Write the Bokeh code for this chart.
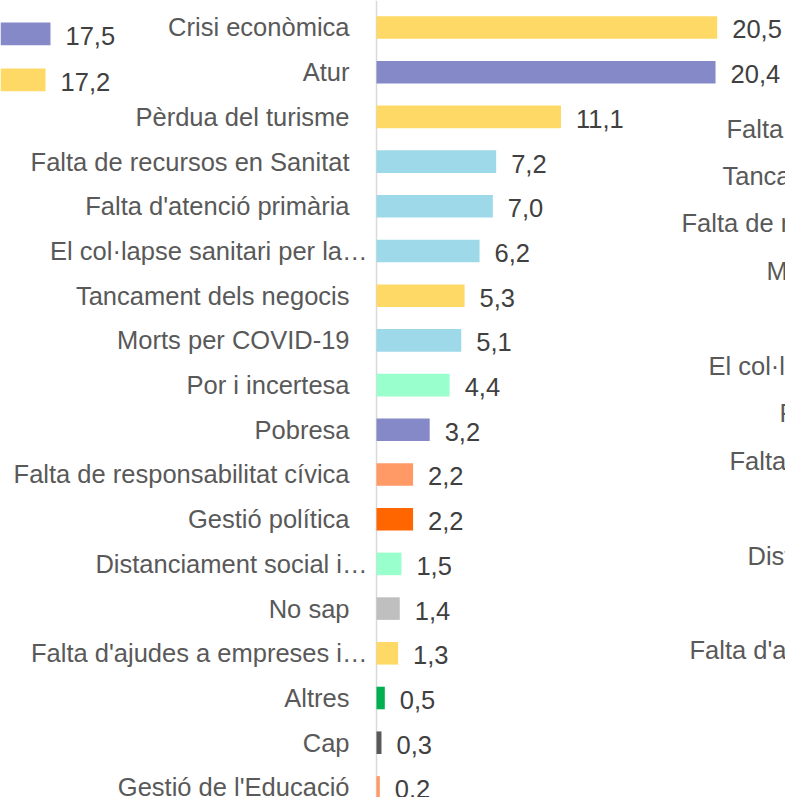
from bokeh.plotting import figure
from bokeh.models import Range1d, ColumnDataSource, Span, Label
from bokeh.core.properties import value
from bokeh.embed import file_html
from bokeh.resources import INLINE

# ---------------- data ----------------
categories = [
    "Crisi econòmica", "Atur", "Pèrdua del turisme", "Falta de recursos en Sanitat",
    "Falta d'atenció primària", "El col·lapse sanitari per la…", "Tancament dels negocis",
    "Morts per COVID-19", "Por i incertesa", "Pobresa", "Falta de responsabilitat cívica",
    "Gestió política", "Distanciament social i…", "No sap", "Falta d'ajudes a empreses i…",
    "Altres", "Cap", "Gestió de l'Educació",
]
values = [20.5, 20.4, 11.1, 7.2, 7.0, 6.2, 5.3, 5.1, 4.4, 3.2, 2.2, 2.2, 1.5, 1.4, 1.3, 0.5, 0.3, 0.2]
bar_colors = [
    "#FFD966", "#8689C7", "#FFD966", "#9DD9E8", "#9DD9E8", "#9DD9E8", "#FFD966",
    "#9DD9E8", "#99FFCC", "#8689C7", "#FF9966", "#FF6600", "#99FFCC", "#BFBFBF",
    "#FFD966", "#00B050", "#595959", "#FF9966",
]

# fragments of the neighbouring charts (cut by the picture's edges)
left_values = [17.5, 17.2]
left_colors = ["#8689C7", "#FFD966"]
right_snippets = ["Falta", "Tanca", "Falta de r", "M", "El col·la", "P", "Falta", "Dist", "Falta d'aj"]
right_rows = [0, 1, 2, 3, 5, 6, 7, 9, 11]

# ---------------- layout ----------------
W, H = 785, 797
ZERO_PX = 376          # canvas x of the value axis
PX_PER_UNIT = 16.62
x_start = -ZERO_PX / PX_PER_UNIT
x_end = x_start + W / PX_PER_UNIT

FONT = value("Liberation Sans")
FS = "25.5px"

p = figure(width=W, height=H, x_range=Range1d(x_start, x_end),
           y_range=Range1d(17.226, -0.604),
           output_backend="svg", toolbar_location=None,
           x_axis_location=None, y_axis_location=None, min_border=0)
p.grid.visible = False
p.outline_line_color = None
p.background_fill_color = "white"
p.border_fill_color = "white"
p.extra_y_ranges = {"left": Range1d(16.670, -0.731), "right": Range1d(14.099, -2.698)}

src = ColumnDataSource(dict(
    y=list(range(len(categories))),
    v=values,
    color=bar_colors,
    label=categories,
    vlabel=[f"{v:.1f}".replace(".", ",") for v in values],
    xoff=[-9 if c.endswith("…") else -27 for c in categories],
))

p.add_layout(Span(location=0, dimension="height", line_color="#D9D9D9",
                  line_width=1.5, level="underlay"))

p.hbar(y="y", left=0, right="v", height=0.505, fill_color="color",
       line_color=None, source=src)
p.text(x=0, y="y", text="label", x_offset="xoff", text_align="right",
       text_baseline="middle", text_font=FONT, text_font_size=FS,
       text_color="#595959", source=src)
p.text(x="v", y="y", text="vlabel", x_offset=15, y_offset=2, text_align="left",
       text_baseline="middle", text_font=FONT, text_font_size=FS,
       text_color="#404040", source=src)

# left neighbouring chart fragment
LEFT_ZERO = -37.115
lsrc = ColumnDataSource(dict(
    y=list(range(len(left_values))),
    left=[LEFT_ZERO] * len(left_values),
    right=[LEFT_ZERO + v for v in left_values],
    color=left_colors,
    vlabel=[f"{v:.1f}".replace(".", ",") for v in left_values],
))
p.hbar(y="y", left="left", right="right", height=0.496, fill_color="color",
       line_color=None, source=lsrc, y_range_name="left")
p.text(x="right", y="y", text="vlabel", x_offset=15, y_offset=2, text_align="left",
       text_baseline="middle", text_font=FONT, text_font_size=FS,
       text_color="#404040", source=lsrc, y_range_name="left")

# right neighbouring chart fragment (labels cut by the edge)
right_left_px = [726, 722, 681, 766, 708, 779, 729, 747, 689]
for txt, row, xpx in zip(right_snippets, right_rows, right_left_px):
    p.add_layout(Label(x=xpx, y=row, x_units="screen", y_units="data",
                       y_range_name="right", text=txt, text_align="left",
                       text_baseline="middle", text_font="Liberation Sans",
                       text_font_size=FS, text_color="#595959"))

open("out.html", "w").write(file_html(p, INLINE))
